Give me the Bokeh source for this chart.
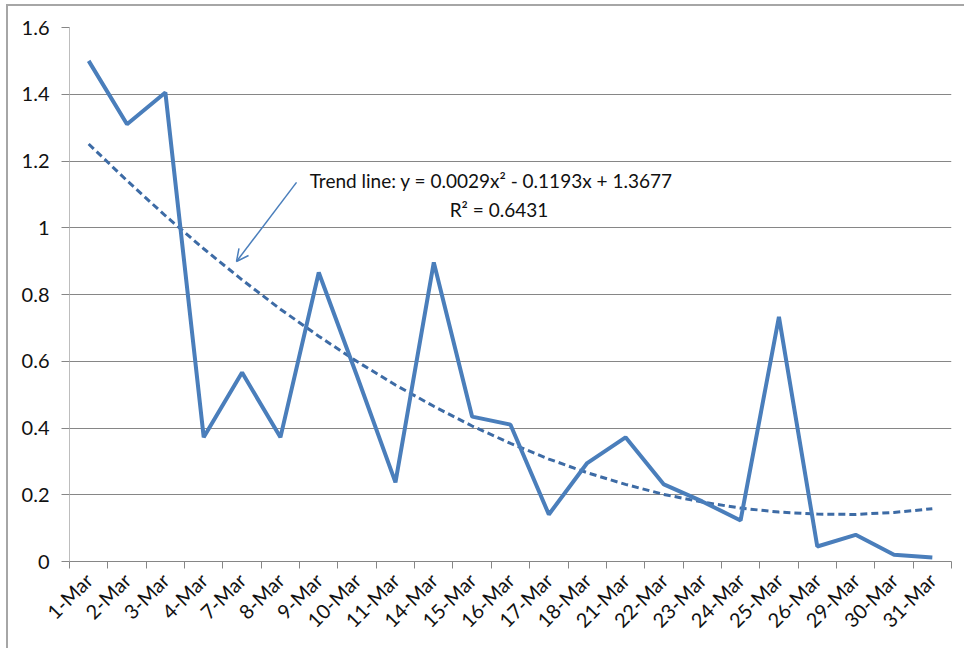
import math
from bokeh.plotting import figure
from bokeh.models import FixedTicker, Label, Arrow, OpenHead, Range1d
from bokeh.embed import file_html
from bokeh.resources import INLINE

dates = ["1-Mar", "2-Mar", "3-Mar", "4-Mar", "7-Mar", "8-Mar", "9-Mar", "10-Mar",
         "11-Mar", "14-Mar", "15-Mar", "16-Mar", "17-Mar", "18-Mar", "21-Mar",
         "22-Mar", "23-Mar", "24-Mar", "25-Mar", "26-Mar", "29-Mar", "30-Mar", "31-Mar"]
values = [1.50, 1.31, 1.405, 0.372, 0.566, 0.372, 0.866, 0.555, 0.237, 0.896,
          0.434, 0.41, 0.141, 0.295, 0.372, 0.231, 0.18, 0.123, 0.733, 0.045,
          0.08, 0.02, 0.012]
trend = [1.251, 1.141, 1.036, 0.937, 0.844, 0.756, 0.675, 0.599, 0.529, 0.465,
         0.406, 0.354, 0.307, 0.266, 0.231, 0.201, 0.178, 0.160, 0.148, 0.142,
         0.141, 0.147, 0.158]
y_ticks = [0, 0.2, 0.4, 0.6, 0.8, 1, 1.2, 1.4, 1.6]
y_tick_labels = ["0", "0.2", "0.4", "0.6", "0.8", "1", "1.2", "1.4", "1.6"]
trend_text = "Trend line: y = 0.0029x\u00b2 - 0.1193x + 1.3677"
r2_text = "R\u00b2 = 0.6431"

x = list(range(1, len(dates) + 1))
FONT = "Lato"
BLUE = "#4a7ebb"
GRID = "#868686"

p = figure(width=958, height=644,
           x_range=Range1d(0.5, len(dates) + 0.5), y_range=Range1d(0, 1.6),
           output_backend="svg", toolbar_location=None,
           min_border_left=61, min_border_right=15, min_border_top=21,
           min_border_bottom=89)
p.outline_line_color = None
p.styles = {"border-left": "2px solid #a6a6a6", "border-top": "2px solid #a6a6a6",
            "margin-left": "6px", "margin-top": "4px"}

# x axis
p.xaxis.ticker = FixedTicker(ticks=x, minor_ticks=[i + 0.5 for i in range(0, len(dates) + 1)])
p.xaxis.major_label_overrides = {i: d for i, d in zip(x, dates)}
p.xaxis.major_label_orientation = math.pi / 4
p.xaxis.major_tick_line_color = None
p.xaxis.major_tick_out = 0
p.xaxis.major_tick_in = 0
p.xaxis.minor_tick_out = 7
p.xaxis.minor_tick_in = 0
p.xaxis.minor_tick_line_color = GRID
p.xaxis.axis_line_color = GRID
p.xaxis.major_label_standoff = 8
p.xaxis.major_label_text_font = FONT
p.xaxis.major_label_text_font_size = "20px"
p.xaxis.major_label_text_color = "#111111"
p.xgrid.visible = False

# y axis
p.yaxis.ticker = FixedTicker(ticks=y_ticks)
p.yaxis.major_label_overrides = {t: s for t, s in zip(y_ticks, y_tick_labels)}
p.yaxis.minor_tick_line_color = None
p.yaxis.major_tick_out = 8
p.yaxis.major_tick_in = 0
p.yaxis.major_tick_line_color = GRID
p.yaxis.axis_line_color = "#bdbdbd"
p.yaxis.major_label_standoff = 12
p.yaxis.major_label_text_font = FONT
p.yaxis.major_label_text_font_size = "20px"
p.yaxis.major_label_text_color = "#111111"
p.ygrid.ticker = FixedTicker(ticks=y_ticks)
p.ygrid.grid_line_color = GRID
p.ygrid.grid_line_width = 1

p.line(x, trend, line_color="#3d6ba5", line_width=3, line_dash="7 4")
p.line(x, values, line_color=BLUE, line_width=4)

p.add_layout(Label(x=11.5, y=1.142, text=trend_text, text_align="center",
                   text_baseline="middle", text_font=FONT, text_font_size="19px",
                   text_color="#111111"))
p.add_layout(Label(x=11.7, y=1.055, text=r2_text, text_align="center",
                   text_baseline="middle", text_font=FONT, text_font_size="19px",
                   text_color="#111111"))
p.add_layout(Arrow(end=OpenHead(size=12, line_color=BLUE, line_width=1.5),
                   x_start=6.42, y_start=1.136, x_end=4.855, y_end=0.899,
                   line_color=BLUE, line_width=1.5))

open("out.html", "w").write(file_html(p, INLINE))
